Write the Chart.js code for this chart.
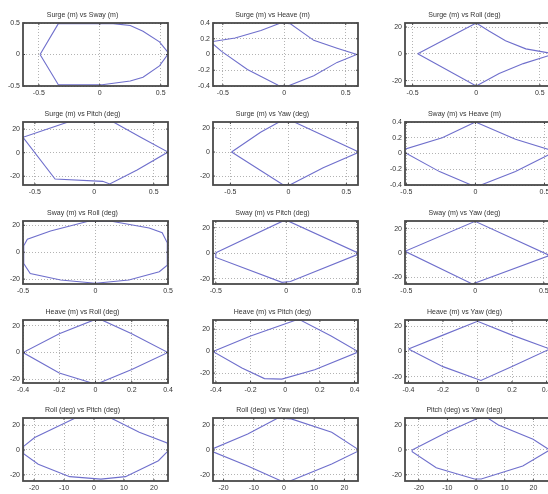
<!DOCTYPE html>
<html lang="en">
<head>
  <meta charset="UTF-8">
  <title>Motion envelopes</title>
  <script src="https://cdn.jsdelivr.net/npm/chart.js"></script>
  <style>
    html, body { margin: 0; padding: 0; background: #fff; overflow: hidden; }
    body { width: 548px; height: 494px; position: relative; }
    .cell { position: absolute; }
  </style>
</head>
<body>
  <div id="grid"></div>

  <script>
    // titles, row by row
    const titles = [
      'Surge (m) vs Sway (m)', 'Surge (m) vs Heave (m)', 'Surge (m) vs Roll (deg)',
      'Surge (m) vs Pitch (deg)', 'Surge (m) vs Yaw (deg)', 'Sway (m) vs Heave (m)',
      'Sway (m) vs Roll (deg)', 'Sway (m) vs Pitch (deg)', 'Sway (m) vs Yaw (deg)',
      'Heave (m) vs Roll (deg)', 'Heave (m) vs Pitch (deg)', 'Heave (m) vs Yaw (deg)',
      'Roll (deg) vs Pitch (deg)', 'Roll (deg) vs Yaw (deg)', 'Pitch (deg) vs Yaw (deg)'
    ];

    // axis limits
    const xLimits = [
      [-0.63, 0.56], [-0.58, 0.6], [-0.56, 0.58],
      [-0.6, 0.62], [-0.65, 0.6], [-0.51, 0.54],
      [-0.5, 0.5], [-0.52, 0.51], [-0.51, 0.545],
      [-0.4, 0.4], [-0.417, 0.42], [-0.42, 0.42],
      [-23.7, 24.7], [-23.5, 24.5], [-24.8, 25.8]
    ];
    const yLimits = [
      [-0.5, 0.5], [-0.4, 0.4], [-24, 23],
      [-27.4, 26], [-27.4, 25], [-0.4, 0.4],
      [-23.6, 23.2], [-24, 25.3], [-25.5, 26.3],
      [-22.8, 24.3], [-29, 28.3], [-25, 25],
      [-24.9, 25.7], [-25, 25.7], [-25, 25.7]
    ];

    // tick labels
    const ticksHalf = [-0.5, 0, 0.5];
    const ticksFifth = [-0.4, -0.2, 0, 0.2, 0.4];
    const ticksDeg = [-20, 0, 20];
    const ticksDegFine = [-20, -10, 0, 10, 20];

    // polygon vertices, closed
    const surgeSwayX = [-0.49, -0.34, 0.11, 0.25, 0.355, 0.49, 0.565, 0.49, 0.355, 0.25, 0.02, -0.34, -0.49];
    const surgeSwayY = [0, 0.49, 0.49, 0.46, 0.37, 0.2, 0.02, -0.18, -0.36, -0.42, -0.48, -0.48, 0];

    const surgeHeaveX = [-0.6, -0.40, -0.19, -0.03, 0.05, 0.24, 0.43, 0.59, 0.43, 0.24, 0.03, -0.05, -0.30, -0.51, -0.6];
    const surgeHeaveY = [0.16, 0.21, 0.305, 0.4, 0.39, 0.18, 0.08, 0.0, -0.10, -0.27, -0.40, -0.39, -0.19, 0.04, 0.16];

    const surgeRollX = [-0.46, 0, 0.1, 0.23, 0.39, 0.58, 0.58, 0.37, 0.18, 0, -0.46];
    const surgeRollY = [0, 23, 17, 9.8, 3.7, 0.5, -1, -7.3, -14.6, -24, 0];

    const surgePitchX = [-0.6, -0.22, 0.16, 0.39, 0.62, 0.36, 0.13, 0.07, -0.33, -0.6];
    const surgePitchY = [13, 26, 26, 13, 0.5, -14.6, -26.5, -24.3, -22.3, 13];

    const surgeYawX = [-0.49, -0.24, -0.08, 0.05, 0.61, 0.3, 0.02, -0.05, -0.49];
    const surgeYawY = [0, 16.5, 25, 25, 0, -13, -27, -27, 0];

    const swayHeaveX = [-0.52, -0.24, 0, 0.29, 0.53, 0.55, 0.29, 0.04, -0.03, -0.26, -0.52, -0.52];
    const swayHeaveY = [0.05, 0.2, 0.4, 0.18, 0.05, 0.0, -0.23, -0.4, -0.4, -0.23, 0.02, 0.05];

    const swayRollX = [-0.495, -0.47, -0.31, -0.05, 0.11, 0.37, 0.46, 0.495, 0.495, 0.44, 0.23, 0.0, -0.24, -0.45, -0.495, -0.495];
    const swayRollY = [4.8, 9.7, 15.8, 23, 23, 18, 14.5, 7, -9.7, -14.5, -20.6, -23, -20.6, -15.8, -8.5, 4.8];

    const swayPitchX = [-0.5, -0.03, 0.02, 0.51, 0.51, 0.03, -0.03, -0.5, -0.5];
    const swayPitchY = [0.5, 25, 25, 0.3, -0.8, -22, -22.7, -3.2, 0.5];

    const swayYawX = [-0.51, 0, 0.53, 0.53, -0.02, -0.51];
    const swayYawY = [1.4, 26, -1.4, -2.5, -25.5, 1.4];

    const heaveRollX = [-0.4, -0.2, -0.015, 0.04, 0.2, 0.4, 0.2, 0.02, -0.02, -0.2, -0.4];
    const heaveRollY = [0, 14, 24, 24, 14, 0, -12.7, -22.8, -22.8, -15.3, 0];

    const heavePitchX = [-0.41, -0.2, 0.063, 0.09, 0.265, 0.41, 0.41, 0.17, -0.02, -0.12, -0.25, -0.41, -0.41];
    const heavePitchY = [0, 13.8, 28.3, 28, 13.8, 0.5, -1.5, -17, -25.5, -25, -15.4, -1, 0];

    const heaveYawX = [-0.4, -0.2, 0, 0.2, 0.42, 0.2, 0.02, -0.2, -0.4];
    const heaveYawY = [2, 13, 24, 13, 2, -12, -23, -12, 2];

    const rollPitchX = [-23.5, -19.8, -6.4, 5.8, 15.1, 24.4, 25, 21.5, 10.5, 2.3, -8.1, -18.6, -23.5, -23.5];
    const rollPitchY = [2.9, 10, 25.5, 25.5, 14.3, 5.7, 0, -8.6, -21.4, -23.4, -21.4, -11.4, -2.9, 2.9];

    const rollYawX = [-23.5, -12, -2, 2.4, 15.8, 24.5, 24.5, 15.8, 2, -0.9, -12, -23.5, -23.5];
    const rollYawY = [1, 12.9, 25.7, 25, 14.3, 0.5, -1, -11.4, -25, -25, -12.9, -1.5, 1];

    const pitchYawX = [-22.3, -10.2, 0.6, 4.2, 7.8, 19.9, 25.7, 16.3, 1.8, -0.6, -13.9, -22.3, -22.3];
    const pitchYawY = [0, 14.3, 25.5, 25.5, 20, 8.6, 0, -12.9, -23.4, -23.4, -14.3, -1.4, 0];

    const seriesX = [surgeSwayX, surgeHeaveX, surgeRollX, surgePitchX, surgeYawX, swayHeaveX, swayRollX,
      swayPitchX, swayYawX, heaveRollX, heavePitchX, heaveYawX, rollPitchX, rollYawX, pitchYawX];
    const seriesY = [surgeSwayY, surgeHeaveY, surgeRollY, surgePitchY, surgeYawY, swayHeaveY, swayRollY,
      swayPitchY, swayYawY, heaveRollY, heavePitchY, heaveYawY, rollPitchY, rollYawY, pitchYawY];
    const xTickSets = [ticksHalf, ticksHalf, ticksHalf, ticksHalf, ticksHalf, ticksHalf, ticksHalf, ticksHalf,
      ticksHalf, ticksFifth, ticksFifth, ticksFifth, ticksDegFine, ticksDegFine, ticksDegFine];
    const yTickSets = [ticksHalf, ticksFifth, ticksDeg, ticksDeg, ticksDeg, ticksFifth, ticksDeg, ticksDeg,
      ticksDeg, ticksDeg, ticksDeg, ticksDeg, ticksDeg, ticksDeg, ticksDeg];

    // layout of the subplot grid
    const COL_LEFT = [23, 213, 405];
    const ROW_TOP = [23, 122, 221, 320, 418];
    const BOX_W = 145, BOX_H = 63;
    const Y_AXIS_W = 26, X_AXIS_H = 14, TITLE_H = 14, PAD_R = 8;
    const FONT = 'Liberation Sans, Arial, sans-serif';
    const LINE = '#6f6fcc';

    // frame + inward tick marks like matlab
    const boxPlugin = {
      id: 'box',
      afterDraw(chart) {
        const { ctx, chartArea: a, scales } = chart;
        ctx.save();
        ctx.strokeStyle = '#444';
        ctx.lineWidth = 1;
        ctx.beginPath();
        scales.x.ticks.forEach(t => {
          const px = scales.x.getPixelForValue(t.value);
          ctx.moveTo(px, a.bottom); ctx.lineTo(px, a.bottom - 2);
          ctx.moveTo(px, a.top); ctx.lineTo(px, a.top + 2);
        });
        scales.y.ticks.forEach(t => {
          const py = scales.y.getPixelForValue(t.value);
          ctx.moveTo(a.left, py); ctx.lineTo(a.left + 2, py);
          ctx.moveTo(a.right, py); ctx.lineTo(a.right - 2, py);
        });
        ctx.stroke();
        ctx.strokeStyle = '#4a4a4a';
        ctx.lineWidth = 1.8;
        ctx.strokeRect(a.left, a.top, a.right - a.left, a.bottom - a.top);
        ctx.restore();
      }
    };

    const grid = document.getElementById('grid');

    titles.forEach((title, i) => {
      const row = Math.floor(i / 3), col = i % 3;
      const div = document.createElement('div');
      div.className = 'cell';
      div.style.left = (COL_LEFT[col] - Y_AXIS_W) + 'px';
      div.style.top = (ROW_TOP[row] - TITLE_H) + 'px';
      const canvas = document.createElement('canvas');
      canvas.width = Y_AXIS_W + BOX_W + PAD_R;
      canvas.height = TITLE_H + BOX_H + X_AXIS_H;
      div.appendChild(canvas);
      grid.appendChild(div);

      const pts = seriesX[i].map((x, k) => ({ x: x, y: seriesY[i][k] }));
      const tickFont = { size: 7, family: FONT };

      new Chart(canvas, {
        type: 'scatter',
        data: {
          datasets: [{
            data: pts,
            showLine: true,
            pointRadius: 0,
            borderColor: LINE,
            borderWidth: 1.1,
            tension: 0
          }]
        },
        options: {
          responsive: false,
          animation: false,
          layout: { padding: { left: 0, right: PAD_R, top: 0, bottom: 0 } },
          plugins: {
            legend: { display: false },
            tooltip: { enabled: false },
            title: {
              display: true,
              text: title,
              color: '#333',
              font: { size: 7, family: FONT, weight: 'normal', lineHeight: '10px' },
              padding: { top: 1, bottom: 3 }
            }
          },
          scales: {
            x: {
              type: 'linear',
              min: xLimits[i][0],
              max: xLimits[i][1],
              afterBuildTicks: s => { s.ticks = xTickSets[i].map(v => ({ value: v })); },
              afterFit: s => { s.height = X_AXIS_H; },
              ticks: { font: tickFont, color: '#333', padding: 3, maxRotation: 0, autoSkip: false, callback: v => String(v) },
              grid: { color: '#a0a0a0', lineWidth: 0.8, drawTicks: false },
              border: { display: false, dash: [1, 2] }
            },
            y: {
              type: 'linear',
              min: yLimits[i][0],
              max: yLimits[i][1],
              afterBuildTicks: s => { s.ticks = yTickSets[i].map(v => ({ value: v })); },
              afterFit: s => { s.width = Y_AXIS_W; },
              ticks: { font: tickFont, color: '#333', padding: 3, autoSkip: false, callback: v => String(v) },
              grid: { color: '#a0a0a0', lineWidth: 0.8, drawTicks: false },
              border: { display: false, dash: [1, 2] }
            }
          }
        },
        plugins: [boxPlugin]
      });
    });
  </script>
</body>
</html>
